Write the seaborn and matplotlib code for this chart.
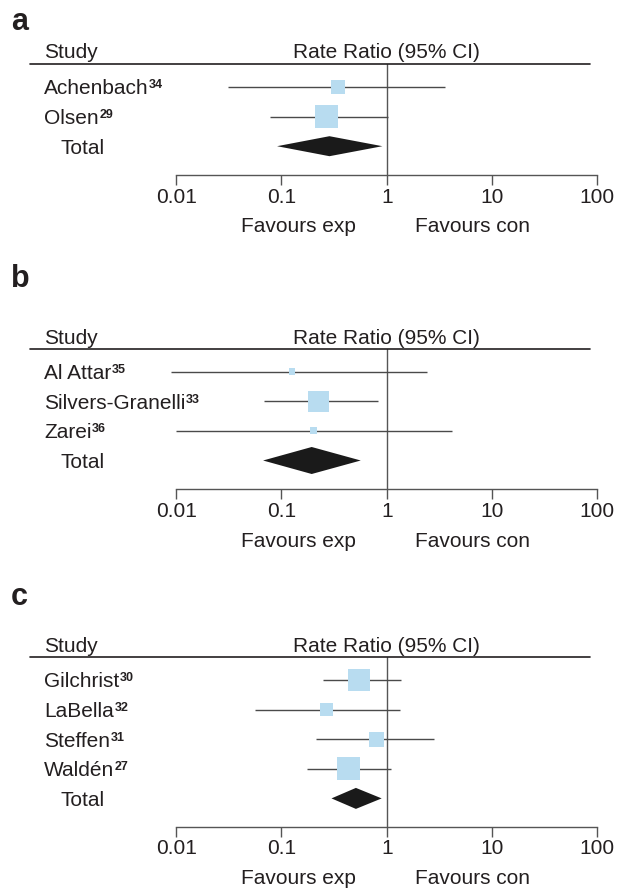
import numpy as np
import pandas as pd
import matplotlib
matplotlib.use("Agg")
import matplotlib.pyplot as plt
import matplotlib.transforms as mtransforms
from matplotlib.ticker import NullLocator
import seaborn as sns

# ---------------- data ----------------
tick_values = [0.01, 0.1, 1, 10, 100]
tick_labels = ["0.01", "0.1", "1", "10", "100"]
header_study = "Study"
header_effect = "Rate Ratio (95% CI)"
favours_left = "Favours exp"
favours_right = "Favours con"
total_label = "Total"

studies_a = ["Achenbach", "Olsen"]
refs_a = ["34", "29"]
rr_a = [0.347, 0.270]
lo_a = [0.031, 0.078]
hi_a = [3.58, 1.02]
weight_a = [27, 73]
total_a = [0.286, 0.091, 0.91]   # estimate, lower, upper

studies_b = ["Al Attar", "Silvers-Granelli", "Zarei"]
refs_b = ["35", "33", "36"]
rr_b = [0.126, 0.225, 0.201]
lo_b = [0.00895, 0.0687, 0.0099]
hi_b = [2.43, 0.82, 4.19]
weight_b = [9, 82, 9]
total_b = [0.194, 0.067, 0.567]

studies_c = ["Gilchrist", "LaBella", "Steffen", "Waldén"]
refs_c = ["30", "32", "31", "27"]
rr_c = [0.548, 0.267, 0.794, 0.434]
lo_c = [0.247, 0.0564, 0.211, 0.175]
hi_c = [1.38, 1.35, 2.83, 1.09]
weight_c = [34, 13, 16, 37]
total_c = [0.51, 0.299, 0.896]

panel_letters = ["a", "b", "c"]

# ---------------- style ----------------
sns.set_theme(style="white")
plt.rcParams["font.family"] = ["Liberation Sans", "DejaVu Sans"]

W, H = 618, 890
PX = 0.72  # points per pixel at dpi 100
FS = 15
SUP_FS = 9
TXT = "#231f20"
SQ = "#b8dcf0"
CI_COL = "#4a4a4a"
AX_COL = "#555555"

x0_px, dec_px = 176.1, 105.3   # pixel of 0.01 and pixels per decade
sp = 29.6                      # row spacing in pixels

# (header line px, first row px, axis px, letter baseline px, max square px, diamond half-height px)
layout = [
    (63.5, 87.0, 175.0, 30.0, 23.0, 10.0),
    (349.0, 371.7, 489.3, 287.0, 20.6, 13.5),
    (657.3, 680.0, 826.7, 605.0, 22.7, 10.5),
]

panels = [
    (studies_a, refs_a, rr_a, lo_a, hi_a, weight_a, total_a),
    (studies_b, refs_b, rr_b, lo_b, hi_b, weight_b, total_b),
    (studies_c, refs_c, rr_c, lo_c, hi_c, weight_c, total_c),
]

fig = plt.figure(figsize=(W / 100, H / 100), dpi=100)

for p, ((names, refs, rr, lo, hi, wt, tot), (line_px, row0_px, axis_px, let_px, maxsq, dh)) in enumerate(zip(panels, layout)):
    ax = fig.add_axes([0, 1 - axis_px / H, 1, (axis_px - line_px) / H])
    ax.set_xscale("log")
    ax.set_xlim(10 ** (-2 - x0_px / dec_px), 10 ** (-2 + (W - x0_px) / dec_px))
    y_bot = (axis_px - row0_px) / sp
    y_top = (line_px - row0_px) / sp
    ax.set_ylim(y_bot, y_top)
    ax.set_facecolor("none")

    n = len(names)
    rows = np.arange(n)
    df = pd.DataFrame({"study": names, "rr": rr, "lo": lo, "hi": hi, "w": wt, "row": rows})

    # confidence intervals
    ax.hlines(df["row"], df["lo"], df["hi"], color=CI_COL, lw=1.0, zorder=2)
    # weighted squares
    w_arr = np.asarray(wt, dtype=float)
    side_px = maxsq * np.sqrt(w_arr / w_arr.max())
    sizes = (side_px * PX) ** 2
    sns.scatterplot(data=df, x="rr", y="row", marker="s", s=sizes, color=SQ,
                    linewidth=0, ax=ax, zorder=3, legend=False)

    # pooled diamond
    est, tlo, thi = tot
    dhi = dh / sp
    ax.fill([tlo, est, thi, est], [n, n - dhi, n, n + dhi], color="#1a1a1a", lw=0, zorder=3)

    # line of no effect
    ax.axvline(1, color=AX_COL, lw=1.0, zorder=1)
    # header rule
    ax.axhline(y_top, xmin=30 / W, xmax=590 / W, color=TXT, lw=1.2, clip_on=False)

    # axis
    for s in ["left", "right", "top"]:
        ax.spines[s].set_visible(False)
    ax.spines["bottom"].set_bounds(tick_values[0], tick_values[-1])
    ax.spines["bottom"].set_color(AX_COL)
    ax.spines["bottom"].set_linewidth(1.0)
    ax.set_xticks(tick_values)
    ax.set_xticklabels(tick_labels)
    ax.xaxis.set_minor_locator(NullLocator())
    ax.tick_params(axis="x", direction="out", length=10 * PX, width=1.0, color=AX_COL,
                   labelsize=FS, labelcolor=TXT, pad=2.0, bottom=True)
    ax.set_yticks([])
    ax.set_xlabel("")
    ax.set_ylabel("")

    blend = mtransforms.blended_transform_factory(ax.transAxes, ax.transData)
    cap_off = -0.716 * FS / 2

    # header texts
    ax.annotate(header_study, xy=(44 / W, y_top), xycoords=blend, xytext=(0, 5 * PX),
                textcoords="offset points", ha="left", va="baseline", fontsize=FS, color=TXT)
    ax.annotate(header_effect, xy=(1, y_top), xycoords=("data", "data"), xytext=(0, 5 * PX),
                textcoords="offset points", ha="center", va="baseline", fontsize=FS, color=TXT)

    # study labels with superscript references
    for i, (nm, rf) in enumerate(zip(names, refs)):
        t = ax.annotate(nm, xy=(44 / W, i), xycoords=blend, xytext=(0, cap_off),
                        textcoords="offset points", ha="left", va="baseline", fontsize=FS, color=TXT)
        # superscript: top aligned with the cap height of the name
        ax.annotate(rf, xy=(44 / W, i), xycoords=blend, xytext=(0, cap_off + 0.716 * FS - 0.716 * SUP_FS),
                    textcoords="offset points", ha="left", va="baseline",
                    fontsize=SUP_FS, fontweight="bold", color=TXT)
    ax.annotate(total_label, xy=(61 / W, n), xycoords=blend, xytext=(0, cap_off),
                textcoords="offset points", ha="left", va="baseline", fontsize=FS, color=TXT)

    # favours labels
    ax.annotate(favours_left, xy=(0.144, 0), xycoords=("data", "axes fraction"),
                xytext=(0, -52 * PX), textcoords="offset points", ha="center", va="center",
                fontsize=FS, color=TXT)
    ax.annotate(favours_right, xy=(6.46, 0), xycoords=("data", "axes fraction"),
                xytext=(0, -52 * PX), textcoords="offset points", ha="center", va="center",
                fontsize=FS, color=TXT)

    fig.text(11 / W, 1 - let_px / H, panel_letters[p], ha="left", va="baseline",
             fontsize=22, fontweight="bold", color=TXT)

# shift superscripts right of their names (needs rendered text widths)
fig.canvas.draw()
renderer = fig.canvas.get_renderer()
for ax in fig.axes:
    texts = [c for c in ax.texts]
    names_and_sups = []
    for k in range(0, len(texts) - 1):
        a, b = texts[k], texts[k + 1]
        if a.get_fontsize() == FS and b.get_fontsize() == SUP_FS:
            names_and_sups.append((a, b))
    for name_t, sup_t in names_and_sups:
        w_px = name_t.get_window_extent(renderer).width
        x_off, y_off = sup_t.xyann
        sup_t.xyann = (w_px * PX + 0.4, y_off)

fig.savefig("out.png", dpi=100, facecolor="white")
